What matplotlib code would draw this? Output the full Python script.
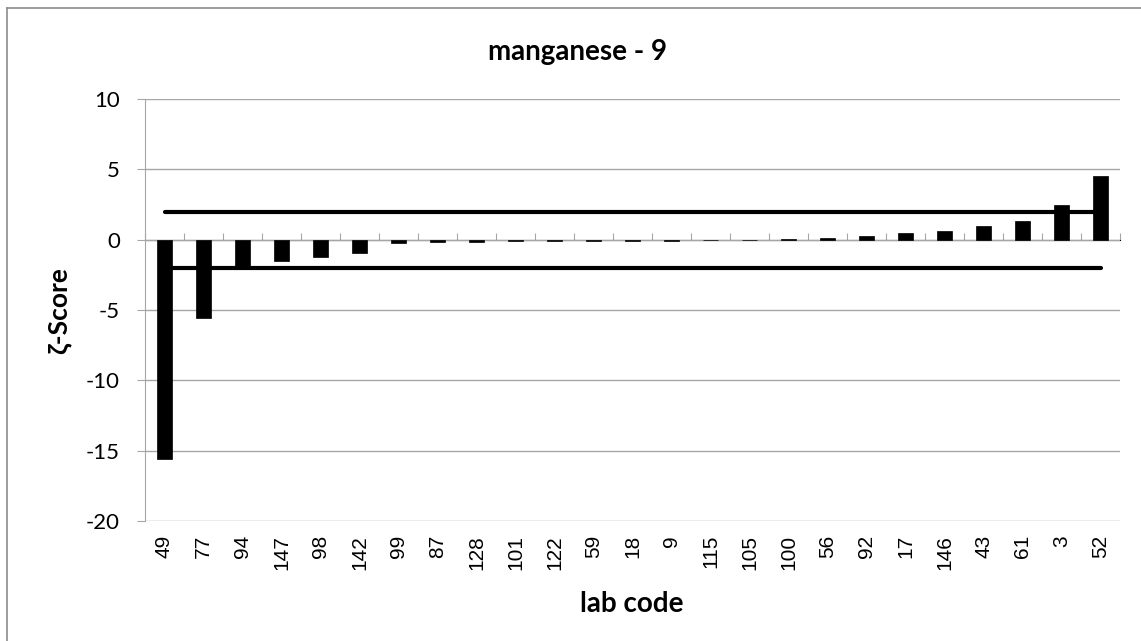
import matplotlib
matplotlib.use("Agg")
import matplotlib.pyplot as plt
from matplotlib.lines import Line2D
import numpy as np

plt.rcParams["axes.unicode_minus"] = False

labs = ["49", "77", "94", "147", "98", "142", "99", "87", "128", "101", "122", "59", "18",
        "9", "115", "105", "100", "56", "92", "17", "146", "43", "61", "3", "52"]
zeta = [-15.6, -5.6, -1.9, -1.5, -1.2, -0.95, -0.27, -0.17, -0.15, -0.13, -0.12, -0.1, -0.08,
        -0.06, -0.04, 0.0, 0.04, 0.15, 0.25, 0.45, 0.6, 0.98, 1.3, 2.5, 4.5]
upper_limit = 2
lower_limit = -2
title = "manganese - 9"

W, H = 1141, 641
fig = plt.figure(figsize=(W / 100, H / 100), dpi=100)
ax = fig.add_axes([145 / W, 1 - 521 / H, (1120 - 145) / W, (521 - 99) / H])

x = np.arange(len(labs))
grid_c = "#a6a6a6"

ax.set_ylim(-20, 10)
ax.set_xlim(-0.5, len(labs) - 0.5)
ax.set_yticks(np.arange(-20, 11, 5))
ax.yaxis.grid(True, color=grid_c, linewidth=1.0)
ax.set_axisbelow(True)
for s in ["top", "right", "bottom"]:
    ax.spines[s].set_visible(False)
ax.spines["left"].set_color(grid_c)
ax.tick_params(axis="y", color=grid_c, length=6, labelsize=16, pad=12)
for lab in ax.get_yticklabels():
    lab.set_fontfamily("Lato")

ax.bar(x, zeta, width=0.38, color="black", edgecolor="black", linewidth=0.5, zorder=2)
ax.plot([x[0], x[-1]], [upper_limit, upper_limit], color="black", linewidth=3.0,
        solid_capstyle="round", zorder=3)
ax.plot([x[0], x[-1]], [lower_limit, lower_limit], color="black", linewidth=3.0,
        solid_capstyle="round", zorder=3)

# category labels at the bottom
ax.set_xticks(x)
ax.set_xticklabels(labs, rotation=90, fontsize=15, family="Liberation Sans")
ax.tick_params(axis="x", length=0, pad=10)

# zero axis with ticks between categories
sec = ax.secondary_xaxis(2 / 3)
sec.set_xticks(np.arange(-0.5, len(labs), 1.0))
sec.set_xticklabels([])
sec.tick_params(axis="x", direction="out", length=5, color=grid_c)
sec.spines["bottom"].set_color(grid_c)
sec.spines["bottom"].set_linewidth(1.2)

fig.text(578 / W, 1 - 52 / H, title, ha="center", va="center", fontsize=20,
         fontweight="bold", family="Lato")
fig.text(632 / W, 1 - 604 / H, "lab code", ha="center", va="center", fontsize=20,
         fontweight="bold", family="Lato")
fig.text(59 / W, 1 - 311 / H, "ζ-Score", ha="center", va="center", fontsize=19,
         fontweight="bold", family=["Lato", "DejaVu Sans"], rotation=90)

# chart outer border (left and top visible)
fig.add_artist(Line2D([6.5 / W, 6.5 / W], [0, 1 - 8 / H], color="#8c8c8c", linewidth=1.2))
fig.add_artist(Line2D([6.5 / W, 1], [1 - 8 / H, 1 - 8 / H], color="#8c8c8c", linewidth=1.2))

fig.savefig("out.png", dpi=100)
